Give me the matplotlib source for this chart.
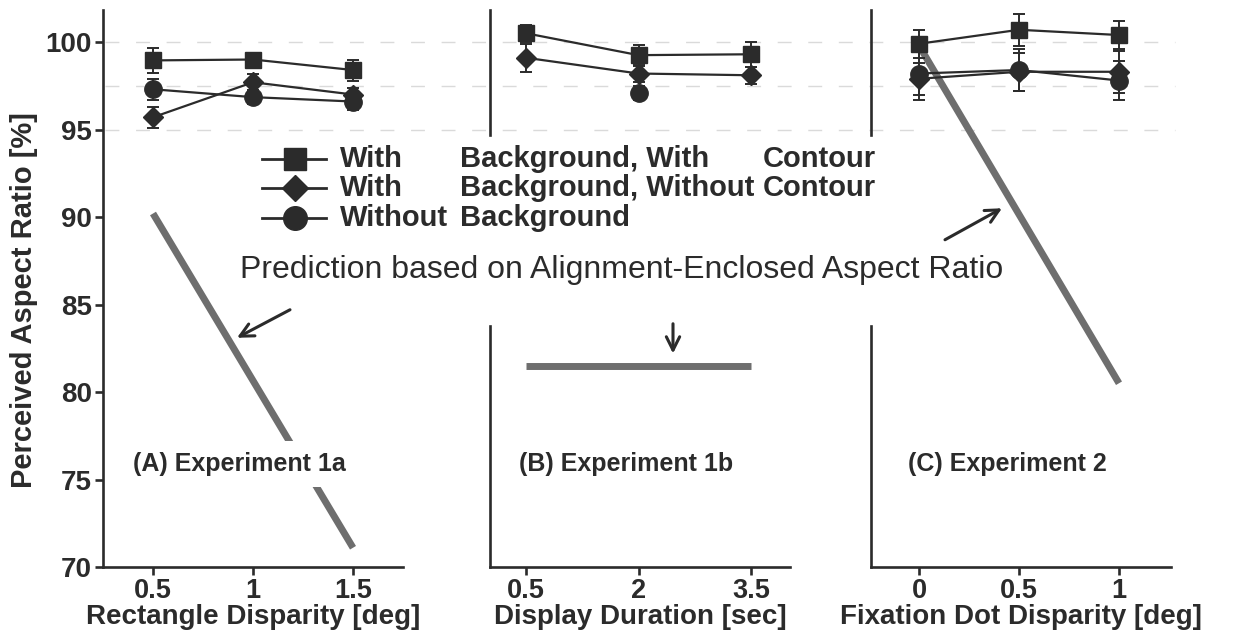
import numpy as np
import matplotlib
matplotlib.use("Agg")
import matplotlib.pyplot as plt
import matplotlib.transforms as mtransforms

plt.rcParams["font.family"] = ["Liberation Sans", "DejaVu Sans"]

INK = "#2b2b2b"
PRED = "#6e6e6e"
GRID = "#dadada"

# ---- data ----
# panel A: Experiment 1a, rectangle disparity
disp_a = [0.5, 1.0, 1.5]
a_square = [98.95, 99.0, 98.4]
a_square_err = [0.7, 0.4, 0.6]
a_diamond = [95.7, 97.7, 97.0]
a_diamond_err = [0.6, 0.5, 0.4]
a_circle = [97.3, 96.85, 96.6]
a_circle_err = [0.6, 0.4, 0.5]
a_pred_x = [0.5, 1.5]
a_pred_y = [90.2, 71.1]

# panel B: Experiment 1b, display duration
dur_b = [0.5, 2.0, 3.5]
b_square = [100.5, 99.25, 99.3]
b_square_err = [0.5, 0.6, 0.7]
b_diamond = [99.1, 98.2, 98.1]
b_diamond_err = [0.8, 0.5, 0.5]
b_circle = [np.nan, 97.1, np.nan]
b_circle_err = [np.nan, 0.4, np.nan]
b_pred_x = [0.5, 3.5]
b_pred_y = [81.5, 81.5]

# panel C: Experiment 2, fixation dot disparity
fix_c = [0.0, 0.5, 1.0]
c_square = [99.9, 100.7, 100.4]
c_square_err = [0.8, 0.9, 0.8]
c_diamond = [97.9, 98.3, 98.3]
c_diamond_err = [0.9, 1.1, 1.2]
c_circle = [98.2, 98.4, 97.8]
c_circle_err = [1.5, 1.2, 1.1]
c_pred_x = [0.0, 1.0]
c_pred_y = [99.8, 80.5]

panels = [
    dict(x=disp_a, sq=a_square, sqe=a_square_err, di=a_diamond, die=a_diamond_err,
         ci=a_circle, cie=a_circle_err, px=a_pred_x, py=a_pred_y,
         xlim=(0.25, 1.75), xticks=[0.5, 1, 1.5], xticklabels=["0.5", "1", "1.5"],
         xlabel="Rectangle Disparity [deg]", title="(A) Experiment 1a",
         arrow=((1.185, 84.7), (0.92, 83.1))),
    dict(x=dur_b, sq=b_square, sqe=b_square_err, di=b_diamond, die=b_diamond_err,
         ci=b_circle, cie=b_circle_err, px=b_pred_x, py=b_pred_y,
         xlim=(0.02, 4.02), xticks=[0.5, 2, 3.5], xticklabels=["0.5", "2", "3.5"],
         xlabel="Display Duration [sec]", title="(B) Experiment 1b",
         arrow=((2.46, 83.9), (2.46, 82.2))),
    dict(x=fix_c, sq=c_square, sqe=c_square_err, di=c_diamond, die=c_diamond_err,
         ci=c_circle, cie=c_circle_err, px=c_pred_x, py=c_pred_y,
         xlim=(-0.24, 1.26), xticks=[0, 0.5, 1], xticklabels=["0", "0.5", "1"],
         xlabel="Fixation Dot Disparity [deg]", title="(C) Experiment 2",
         arrow=((0.13, 88.7), (0.415, 90.5))),
]

W, H = 1237, 634
fig = plt.figure(figsize=(W / 100, H / 100), dpi=100)
lefts = [103, 490, 871]
ylim = (70, 101.83)

axes = []
for i, (p, lx) in enumerate(zip(panels, lefts)):
    ax = fig.add_axes([lx / W, (H - 567) / H, 300 / W, (567 - 10) / H])
    ax.set_facecolor("none")
    axes.append(ax)
    ax.set_xlim(*p["xlim"])
    ax.set_ylim(*ylim)
    for s in ["top", "right"]:
        ax.spines[s].set_visible(False)
    for s in ["left", "bottom"]:
        ax.spines[s].set_linewidth(1.9)
        ax.spines[s].set_color(INK)

    # prediction line
    ax.plot(p["px"], p["py"], color=PRED, lw=5, solid_capstyle="butt", zorder=2)

    # data series
    ms_kw = dict(color=INK, lw=1.6, capsize=4, elinewidth=1.4, capthick=1.4, zorder=4)
    ax.errorbar(p["x"], p["sq"], yerr=p["sqe"], marker="s", ms=12, **ms_kw)
    ax.errorbar(p["x"], p["di"], yerr=p["die"], marker="D", ms=10, **ms_kw)
    ax.errorbar(p["x"], p["ci"], yerr=p["cie"], marker="o", ms=12.5, **ms_kw)

    ax.set_xticks(p["xticks"])
    ax.set_xticklabels(p["xticklabels"])
    ax.tick_params(axis="x", length=6, width=1.9, color=INK, pad=2,
                   labelsize=19.5, labelcolor=INK)
    for t in ax.get_xticklabels():
        t.set_fontweight("bold")
    ax.set_xlabel(p["xlabel"], fontsize=20, fontweight="bold", color=INK, labelpad=0)

    ax.text(0.455, 75.9, p["title"], transform=mtransforms.blended_transform_factory(
        ax.transAxes, ax.transData), ha="center", va="center", fontsize=18,
        fontweight="bold", color=INK, zorder=5,
        bbox=dict(facecolor="white", edgecolor="none", pad=8))

    (tx, ty), (hx, hy) = p["arrow"]
    ax.annotate("", xy=(hx, hy), xytext=(tx, ty),
                arrowprops=dict(arrowstyle="->", color=INK, lw=2.2,
                                mutation_scale=24, shrinkA=0, shrinkB=0))

    if i == 0:
        ax.set_yticks([70, 75, 80, 85, 90, 95, 100])
        ax.tick_params(axis="y", length=6, width=1.9, color=INK, pad=2,
                       labelsize=20, labelcolor=INK)
        for t in ax.get_yticklabels():
            t.set_fontweight("bold")
        ax.set_ylabel("Perceived Aspect Ratio [%]", fontsize=21, fontweight="bold",
                      color=INK)
        ax.yaxis.set_label_coords(-0.215, 0.48)
    else:
        ax.set_yticks([])
        # broken left spine: lower piece + upper piece
        ax.spines["left"].set_bounds(70, 83.8)
        ax.axvline(p["xlim"][0], ymin=(94.7 - ylim[0]) / (ylim[1] - ylim[0]), ymax=1,
                   color=INK, lw=1.9, clip_on=False)

# dashed reference lines running across all panels
blend = mtransforms.blended_transform_factory(fig.transFigure, axes[0].transData)
for yv in [100, 97.5, 95]:
    fig.add_artist(plt.Line2D([105 / W, 1175 / W], [yv, yv], transform=blend,
                              color=GRID, lw=1.0, ls=(0, (10, 12)), zorder=-1))

# overlay for legend and prediction text (pixel coordinates)
lax = fig.add_axes([0, 0, 1, 1], facecolor="none")
lax.set_xlim(0, W)
lax.set_ylim(H, 0)
lax.axis("off")

legend_markers = [("s", 16), ("D", 13), ("o", 17)]
col1 = ["With", "With", "Without"]
col2 = ["Background, With", "Background, Without", "Background"]
col3 = ["Contour", "Contour", ""]
rows_y = [159, 188, 218]
for (mk, ms), y, c1, c2, c3 in zip(legend_markers, rows_y, col1, col2, col3):
    lax.plot([262, 326], [y, y], color=INK, lw=2)
    lax.plot([295], [y], marker=mk, ms=ms, color=INK)
    for xx, s in zip([340, 460, 763], [c1, c2, c3]):
        lax.text(xx, y, s, fontsize=21, fontweight="bold", color=INK,
                 ha="left", va="center")

lax.text(622, 270, "Prediction based on Alignment-Enclosed Aspect Ratio",
         fontsize=23, color=INK, ha="center", va="center")

fig.savefig("out.png", dpi=100)
